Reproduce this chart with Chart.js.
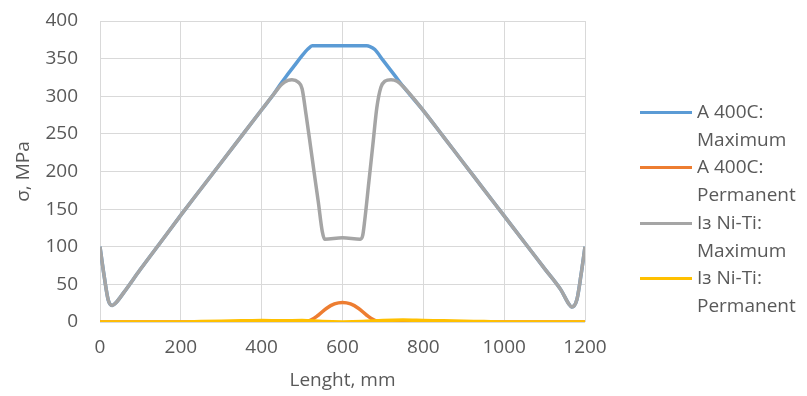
<!DOCTYPE html>
<html>
<head>
<meta charset="utf-8">
<script src="https://cdn.jsdelivr.net/npm/chart.js@4"></script>
<style>
html,body{margin:0;padding:0;background:#fff;}
#wrap{position:relative;width:807px;height:396px;}
canvas{position:absolute;left:0;top:0;}
#legend{position:absolute;left:640px;top:98px;font-family:"Open Sans",sans-serif;font-size:19px;color:#595959;line-height:27.7px;}
.item{position:relative;padding-left:57px;}
.item .ln{position:absolute;left:0;top:13px;width:52px;height:3px;}
</style>
</head>
<body>
<div id="wrap"><canvas id="c" width="807" height="396"></canvas><div id="legend"></div></div>
<script>
const seriesNames = ["A 400C: Maximum", "A 400C: Permanent", "Iз Ni-Ti: Maximum", "Iз Ni-Ti: Permanent"];
const legendLines = [["A 400C:", "Maximum"], ["A 400C:", "Permanent"], ["Iз Ni-Ti:", "Maximum"], ["Iз Ni-Ti:", "Permanent"]];
const xTicks = [0, 200, 400, 600, 800, 1000, 1200];
const yTicks = [0, 50, 100, 150, 200, 250, 300, 350, 400];

const grayX = [0, 10, 20, 30, 40, 60, 100, 150, 200, 250, 300, 350, 400, 430, 450, 465, 475, 490, 500, 510, 520, 530, 540, 550, 556, 600, 644, 650, 655, 665, 675, 685, 695, 705, 720, 735, 750, 800, 850, 900, 950, 1000, 1050, 1100, 1140, 1160, 1167, 1180, 1190, 1200];
const grayY = [100, 62, 30, 22, 26, 40, 70, 106, 142, 177, 212, 247, 282, 303, 316, 321, 322, 319, 310, 275, 237, 198, 160, 120, 110, 112, 110, 115, 135, 185, 235, 285, 312, 320, 322, 320, 313, 281, 246, 211, 176, 141, 106, 71, 43, 24, 20, 30, 62, 100];

const blueX = [0, 10, 20, 30, 40, 60, 100, 150, 200, 250, 300, 350, 400, 430, 445, 460, 480, 500, 515, 525, 540, 600, 660, 668, 680, 700, 720, 740, 750, 800, 850, 900, 950, 1000, 1050, 1100, 1140, 1160, 1167, 1180, 1190, 1200];
const blueY = [100, 62, 30, 22, 26, 40, 70, 106, 142, 177, 212, 247, 282, 303, 315, 326, 340, 354, 363, 367, 367, 367, 367, 366, 362, 348, 334, 320, 313, 281, 246, 211, 176, 141, 106, 71, 43, 24, 20, 30, 62, 100];

const orangeX = [0, 200, 400, 500, 520, 540, 560, 580, 600, 620, 640, 660, 680, 700, 800, 1000, 1200];
const orangeY = [0, 0, 0, 0.5, 2, 9, 18, 24, 26, 24, 18, 9, 2, 0.5, 0, 0, 0];

const yellowX = [0, 100, 200, 250, 300, 350, 400, 450, 500, 550, 600, 650, 700, 750, 800, 850, 900, 950, 1000, 1100, 1200];
const yellowY = [0, 0, 0, 0.5, 1, 1.5, 2, 1.5, 2, 0.5, 0, 0.5, 2, 2.5, 2, 1.5, 1, 0.5, 0, 0, 0];

const colors = ["#5B9BD5", "#ED7D31", "#A5A5A5", "#FFC000"];
const xsAll = [blueX, orangeX, grayX, yellowX];
const ysAll = [blueY, orangeY, grayY, yellowY];
const orders = [2, 4, 1, 3];

const FONT = {family: "'Open Sans', sans-serif", size: 19};
const TXT = "#595959";

const datasets = seriesNames.map((name, i) => ({
  label: name,
  data: xsAll[i].map((x, j) => ({x: x, y: ysAll[i][j]})),
  borderColor: colors[i],
  backgroundColor: colors[i],
  borderWidth: 3.5,
  pointRadius: 0,
  fill: false,
  cubicInterpolationMode: 'monotone',
  order: orders[i]
}));

new Chart(document.getElementById('c'), {
  type: 'line',
  data: {datasets: datasets},
  options: {
    responsive: false,
    animation: false,
    layout: {padding: {top: 21, right: 222, left: 8, bottom: 0}},
    plugins: {legend: {display: false}, tooltip: {enabled: false}},
    scales: {
      x: {
        type: 'linear', min: 0, max: 1200,
        afterBuildTicks: (s) => { s.ticks = xTicks.map(v => ({value: v})); },
        afterFit: (s) => { s.height = 74; s.paddingLeft = 0; s.paddingRight = 0; },
        grid: {color: '#D9D9D9', lineWidth: 1, drawTicks: false},
        border: {display: false},
        ticks: {color: TXT, font: FONT, padding: 14, maxRotation: 0, callback: (v) => String(v)},
        title: {display: true, text: 'Lenght, mm', color: TXT, font: FONT, padding: {top: 7}}
      },
      y: {
        min: 0, max: 400,
        afterBuildTicks: (s) => { s.ticks = yTicks.map(v => ({value: v})); },
        afterFit: (s) => { s.width = 92; s.paddingTop = 0; s.paddingBottom = 0; },
        grid: {color: '#D9D9D9', lineWidth: 1, drawTicks: false},
        border: {display: false},
        ticks: {color: TXT, font: FONT, padding: 22, callback: (v) => String(v)},
        title: {display: true, text: 'σ, MPa', color: TXT, font: FONT, padding: {bottom: 0}}
      }
    }
  }
});

const lg = document.getElementById('legend');
legendLines.forEach((lines, i) => {
  const d = document.createElement('div');
  d.className = 'item';
  d.innerHTML = '<span class="ln" style="background:' + colors[i] + '"></span>' + lines.join('<br>');
  lg.appendChild(d);
});
</script>
</body>
</html>
